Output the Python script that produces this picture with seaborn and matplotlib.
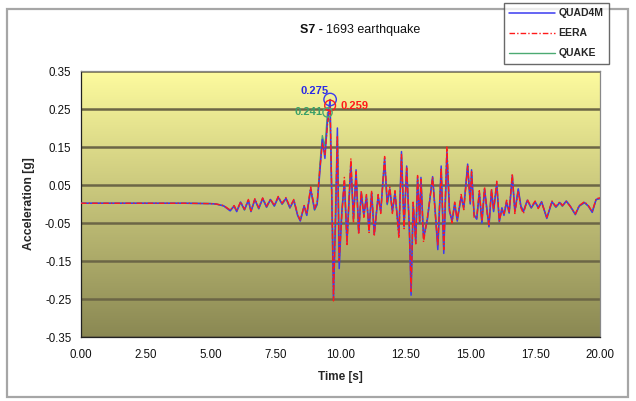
import numpy as np
import pandas as pd
import matplotlib
matplotlib.use("Agg")
import matplotlib.pyplot as plt
from matplotlib.patches import Rectangle
from matplotlib.colors import to_rgb
from matplotlib.ticker import FormatStrFormatter
import seaborn as sns

# Acceleration time histories at the surface of soil profile S7 (1693 event)
time_s = [0.0, 1.0, 2.0, 3.0, 4.0, 5.0, 5.2, 5.5, 5.75, 5.9,
          6.0, 6.15, 6.3, 6.45, 6.55, 6.7, 6.85, 7.0, 7.15, 7.3,
          7.45, 7.6, 7.75, 7.9, 8.05, 8.2, 8.35, 8.45, 8.6, 8.7,
          8.85, 9.0, 9.1, 9.2, 9.3, 9.4, 9.5, 9.6, 9.68, 9.73,
          9.8, 9.88, 9.95, 10.05, 10.15, 10.25, 10.4, 10.5, 10.6, 10.7,
          10.8, 10.9, 11.0, 11.1, 11.2, 11.3, 11.45, 11.55, 11.7, 11.8,
          11.9, 12.0, 12.1, 12.25, 12.35, 12.45, 12.55, 12.65, 12.72, 12.8,
          12.9, 12.97, 13.05, 13.1, 13.2, 13.35, 13.55, 13.65, 13.75, 13.88,
          13.98, 14.1, 14.2, 14.3, 14.4, 14.5, 14.65, 14.75, 14.9, 15.0,
          15.05, 15.15, 15.25, 15.35, 15.45, 15.55, 15.65, 15.72, 15.82, 15.9,
          16.02, 16.12, 16.22, 16.3, 16.4, 16.5, 16.62, 16.72, 16.85, 16.95,
          17.05, 17.2, 17.35, 17.5, 17.62, 17.75, 17.95, 18.15, 18.3, 18.45,
          18.55, 18.7, 18.85, 19.05, 19.2, 19.4, 19.55, 19.7, 19.85, 20.0]

quad4m = [0.002, 0.002, 0.002, 0.002, 0.002, 0.001, 0.0, -0.005, -0.018, -0.005,
          -0.02, 0.005, -0.015, 0.01, -0.02, 0.012, -0.012, 0.015, -0.008, 0.012,
          -0.005, 0.018, 0.0, 0.015, -0.01, 0.01, -0.03, -0.045, -0.005, -0.03,
          0.04, -0.015, 0.0, 0.08, 0.17, 0.12, 0.22, 0.275, -0.05, -0.25,
          -0.06, 0.2, -0.17, -0.02, 0.06, -0.1, 0.11, -0.04, 0.09, -0.075,
          0.03, -0.03, 0.02, -0.07, 0.03, -0.08, 0.02, -0.02, 0.12, 0.0,
          0.04, -0.02, 0.03, -0.08, 0.138, -0.06, 0.1, -0.06, -0.24, 0.0,
          -0.1, 0.07, -0.05, 0.07, -0.09, -0.04, 0.072, -0.02, -0.12, 0.1,
          -0.13, 0.138, -0.02, -0.045, 0.0, -0.045, 0.02, -0.01, 0.105, 0.0,
          0.09, -0.03, -0.04, 0.03, -0.05, 0.04, -0.02, -0.06, 0.037, -0.02,
          0.055, -0.047, -0.01, -0.03, 0.006, -0.024, 0.075, -0.02, 0.04, -0.005,
          -0.02, 0.01, -0.01, 0.006, -0.01, 0.006, -0.038, 0.006, -0.008, 0.004,
          -0.005, 0.008, -0.005, -0.028, -0.005, 0.004, -0.005, -0.022, 0.012, 0.015]

eera = [0.002, 0.002, 0.002, 0.002, 0.002, 0.001, 0.0, -0.004, -0.016, -0.004,
        -0.018, 0.006, -0.014, 0.012, -0.018, 0.014, -0.01, 0.016, -0.006, 0.013,
        -0.004, 0.02, 0.002, 0.017, -0.008, 0.012, -0.028, -0.042, -0.004, -0.027,
        0.045, -0.012, 0.005, 0.09, 0.16, 0.13, 0.21, 0.259, -0.04, -0.255,
        -0.05, 0.18, -0.15, -0.03, 0.07, -0.11, 0.12, -0.05, 0.085, -0.08,
        0.035, -0.035, 0.025, -0.075, 0.035, -0.085, 0.025, -0.025, 0.125, 0.005,
        0.045, -0.025, 0.035, -0.09, 0.13, -0.065, 0.095, -0.055, -0.23, 0.005,
        -0.105, 0.075, -0.045, 0.065, -0.1, -0.035, 0.07, -0.025, -0.11, 0.095,
        -0.12, 0.15, -0.015, -0.05, 0.005, -0.04, 0.025, -0.015, 0.1, 0.005,
        0.085, -0.035, -0.035, 0.035, -0.045, 0.045, -0.025, -0.055, 0.04, -0.015,
        0.06, -0.045, -0.015, -0.025, 0.01, -0.02, 0.08, -0.025, 0.035, -0.01,
        -0.025, 0.012, -0.008, 0.008, -0.012, 0.004, -0.035, 0.008, -0.006, 0.006,
        -0.004, 0.006, -0.006, -0.026, -0.004, 0.006, -0.004, -0.02, 0.014, 0.016]

quake = [0.002, 0.002, 0.002, 0.002, 0.002, 0.001, 0.0, -0.005, -0.017, -0.006,
         -0.019, 0.004, -0.016, 0.009, -0.019, 0.011, -0.013, 0.014, -0.009, 0.011,
         -0.006, 0.017, -0.001, 0.014, -0.011, 0.009, -0.031, -0.043, -0.006, -0.029,
         0.038, -0.016, -0.002, 0.1, 0.18, 0.15, 0.241, 0.21, -0.03, -0.13,
         -0.08, 0.17, -0.14, -0.025, 0.055, -0.095, 0.1, -0.045, 0.08, -0.07,
         0.028, -0.028, 0.018, -0.065, 0.028, -0.075, 0.018, -0.018, 0.11, -0.002,
         0.038, -0.018, 0.028, -0.075, 0.12, -0.055, 0.09, -0.055, -0.2, -0.005,
         -0.095, 0.065, -0.048, 0.065, -0.085, -0.038, 0.068, -0.018, -0.11, 0.09,
         -0.12, 0.125, -0.018, -0.042, 0.002, -0.042, 0.018, -0.012, 0.098, 0.002,
         0.082, -0.028, -0.038, 0.028, -0.048, 0.038, -0.018, -0.055, 0.035, -0.018,
         0.05, -0.044, -0.012, -0.028, 0.004, -0.022, 0.07, -0.018, 0.038, -0.006,
         -0.018, 0.009, -0.011, 0.005, -0.009, 0.005, -0.036, 0.005, -0.009, 0.003,
         -0.006, 0.007, -0.006, -0.027, -0.006, 0.003, -0.006, -0.021, 0.011, 0.014]

series_names = ["QUAD4M", "EERA", "QUAKE"]
series_colors = {"QUAD4M": "#3b3bf0", "EERA": "#ff1a1a", "QUAKE": "#4caa72"}
label_colors = {"QUAD4M": "#2a2ae6", "EERA": "#ff1a1a", "QUAKE": "#3aa068"}
y_ticks = [-0.35, -0.25, -0.15, -0.05, 0.05, 0.15, 0.25, 0.35]
x_ticks = [0.0, 2.5, 5.0, 7.5, 10.0, 12.5, 15.0, 17.5, 20.0]

sns.set_theme(style="white")
plt.rcParams["font.family"] = ["Liberation Sans", "DejaVu Sans"]

W, H = 636, 401
fig = plt.figure(figsize=(W / 100, H / 100), dpi=100)
fig.patch.set_facecolor("white")
fig.patches.append(Rectangle((7 / W, 1 - 397 / H), (628 - 7) / W, (397 - 9) / H,
                             transform=fig.transFigure, fill=False,
                             edgecolor="#a6a6a6", lw=1.6))

ax = fig.add_axes([81 / W, 1 - 337 / H, (600 - 81) / W, (337 - 71) / H])

# vertical yellow-to-olive background
top_c = np.array(to_rgb("#fdfb9e"))
bot_c = np.array(to_rgb("#8a8853"))
f = np.linspace(0, 1, 256)[:, None]
grad = (top_c * (1 - f) + bot_c * f)[:, None, :]
ax.imshow(grad, extent=[0, 20, -0.35, 0.35], aspect="auto", zorder=0,
          interpolation="bilinear")

df = pd.DataFrame({"time": time_s, "QUAD4M": quad4m, "EERA": eera, "QUAKE": quake})

sns.lineplot(data=df, x="time", y="QUAKE", ax=ax, color=series_colors["QUAKE"],
             lw=1.0, label="QUAKE", zorder=3)
sns.lineplot(data=df, x="time", y="QUAD4M", ax=ax, color=series_colors["QUAD4M"],
             lw=1.1, label="QUAD4M", zorder=4)
sns.lineplot(data=df, x="time", y="EERA", ax=ax, color=series_colors["EERA"],
             lw=1.0, linestyle=(0, (4, 1.5, 1, 1.5)), label="EERA", zorder=5)

# peak markers with their values
peak_style = {
    "QUAD4M": dict(size=80, off=(-1, 9), ha="right", va="center"),
    "EERA": dict(size=60, off=(10, 0), ha="left", va="center"),
    "QUAKE": dict(size=45, off=(-5, 0), ha="right", va="center"),
}
for name in series_names:
    i = int(np.argmax(df[name].values))
    tp, ap = df["time"].iloc[i], df[name].iloc[i]
    st = peak_style[name]
    ax.scatter([tp], [ap], s=st["size"], facecolors="none",
               edgecolors=series_colors[name], lw=1.0, zorder=6)
    ax.annotate(f"{ap:.3f}", (tp, ap), xytext=st["off"], textcoords="offset pixels",
                ha=st["ha"], va=st["va"], color=label_colors[name],
                fontsize=8, fontweight="bold", zorder=7)

ax.set_xlim(0, 20)
ax.set_ylim(-0.35, 0.35)
ax.set_xticks(x_ticks)
ax.set_yticks(y_ticks)
ax.xaxis.set_major_formatter(FormatStrFormatter("%.2f"))
ax.yaxis.set_major_formatter(FormatStrFormatter("%.2f"))
ax.yaxis.grid(True, color="#6c6646", lw=1.8, zorder=1)
ax.xaxis.grid(False)
ax.set_axisbelow(True)
ax.tick_params(axis="both", direction="out", length=4, width=0.8, color="#333333",
               labelsize=8.3, labelcolor="#111111", pad=3)
ax.tick_params(axis="x", pad=5)
for s in ax.spines.values():
    s.set_color("#888888")
    s.set_linewidth(0.9)
ax.spines["left"].set_color("#222222")
ax.spines["bottom"].set_color("#222222")

ax.set_xlabel("Time [s]", fontsize=8.5, fontweight="bold", labelpad=7)
ax.set_ylabel("Acceleration [g]", fontsize=8.8, fontweight="bold", labelpad=7)

# title: bold site code followed by the event name
fig.text(323 / W, 1 - 30 / H, "S7 -", ha="right", va="center",
         fontsize=9, fontweight="bold", color="#111111")
fig.text(326 / W, 1 - 30 / H, "1693 earthquake", ha="left", va="center",
         fontsize=9, color="#111111")

ax.get_legend().remove()
handles, labels = ax.get_legend_handles_labels()
order = [labels.index(n) for n in series_names]
leg = fig.legend([handles[k] for k in order], series_names,
                 loc="lower right", bbox_to_anchor=(609 / W, 1 - 64 / H),
                 frameon=True, fancybox=False, handlelength=4.4,
                 handletextpad=0.3, labelspacing=0.95, borderpad=0.55,
                 borderaxespad=0.0,
                 prop={"weight": "bold", "size": 7.5})
leg.get_frame().set_edgecolor("#444444")
leg.get_frame().set_linewidth(1.0)

fig.savefig("out.png", dpi=100)
